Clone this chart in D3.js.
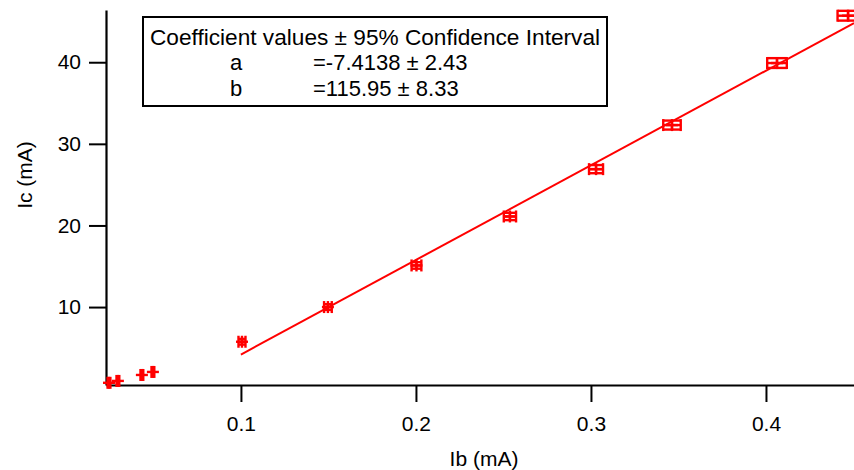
<!DOCTYPE html>
<html><head><meta charset="utf-8">
<script src="https://cdn.jsdelivr.net/npm/d3@7"></script>
<style>body{margin:0;background:#fff}svg{display:block;font-family:"Liberation Sans",Arial,sans-serif}</style>
</head><body>
<svg id="chart" width="854" height="470"></svg>
<script>
const ib = [0.0246, 0.0297, 0.0434, 0.0497, 0.1006, 0.1497, 0.2003, 0.2537, 0.3029, 0.3463, 0.4063, 0.4469];
const ic = [0.72, 0.95, 1.68, 2.05, 5.75, 10.0, 15.1, 21.1, 26.9, 32.3, 39.9, 45.7];
const ibErr = [0.0008, 0.0008, 0.0008, 0.0008, 0.002, 0.0022, 0.0028, 0.0035, 0.004, 0.005, 0.0056, 0.006];
const icErr = [0.2, 0.2, 0.2, 0.2, 0.35, 0.35, 0.4, 0.45, 0.5, 0.55, 0.6, 0.6];
const xTicks = [0.1, 0.2, 0.3, 0.4];
const yTicks = [10, 20, 30, 40];
const coefA = -7.4138, coefB = 115.95;
const fitRange = [0.1, 0.4503];
const legendLines = ["Coefficient values \u00b1 95% Confidence Interval", ["a", "=-7.4138 \u00b1 2.43"], ["b", "=115.95 \u00b1 8.33"]];

const svg = d3.select("#chart");
const red = "#ff0000";
const x = d3.scaleLinear().domain([0.0229, 0.4503]).range([106, 854]);
const y = d3.scaleLinear().domain([0.45, 46.4]).range([385, 10]);

// axes
const xAxis = svg.append("g").attr("transform", "translate(0,385)")
  .call(d3.axisBottom(x).tickValues(xTicks).tickFormat(d3.format(".1f")).tickSize(17).tickSizeOuter(0));
const yAxis = svg.append("g").attr("transform", "translate(106,0)")
  .call(d3.axisLeft(y).tickValues(yTicks).tickSize(17).tickSizeOuter(0));
[xAxis, yAxis].forEach(g => {
  g.select(".domain").attr("stroke", "#000").attr("stroke-width", 2.2);
  g.selectAll(".tick line").attr("stroke", "#000").attr("stroke-width", 2);
  g.selectAll(".tick text").attr("fill", "#000").style("font-size", "21px").style("font-family", "Liberation Sans, Arial, sans-serif");
});
xAxis.selectAll(".tick text").attr("dy", "1.25em");
yAxis.selectAll(".tick text").attr("x", -25);

svg.append("text").attr("x", 484).attr("y", 466).attr("text-anchor", "middle")
  .style("font-size", "21px").text("Ib (mA)");
svg.append("text").attr("transform", "translate(32,175) rotate(-90)").attr("text-anchor", "middle")
  .style("font-size", "21px").text("Ic (mA)");

// fit line
svg.append("line")
  .attr("x1", x(fitRange[0])).attr("y1", y(coefA + coefB * fitRange[0]))
  .attr("x2", x(fitRange[1])).attr("y2", y(coefA + coefB * fitRange[1]))
  .attr("stroke", red).attr("stroke-width", 2);

// points with error bars
const pts = ib.map((v, i) => ({x: v, y: ic[i], ex: ibErr[i], ey: icErr[i]}));
const g = svg.append("g").attr("stroke", red).attr("stroke-width", 2.4).attr("fill", "none");
pts.forEach(p => {
  const cx = x(p.x), cy = y(p.y);
  const x0 = x(p.x - p.ex), x1 = x(p.x + p.ex);
  const y0 = y(p.y - p.ey), y1 = y(p.y + p.ey);
  const m = 6;
  g.append("line").attr("x1", x0).attr("x2", x1).attr("y1", cy).attr("y2", cy);
  g.append("line").attr("x1", x0).attr("x2", x0).attr("y1", cy - m).attr("y2", cy + m);
  g.append("line").attr("x1", x1).attr("x2", x1).attr("y1", cy - m).attr("y2", cy + m);
  g.append("line").attr("x1", cx).attr("x2", cx).attr("y1", y0).attr("y2", y1);
  g.append("line").attr("x1", x0).attr("x2", x1).attr("y1", y0).attr("y2", y0);
  g.append("line").attr("x1", x0).attr("x2", x1).attr("y1", y1).attr("y2", y1);
  g.append("line").attr("x1", cx - m).attr("x2", cx + m).attr("y1", cy).attr("y2", cy);
  g.append("line").attr("x1", cx).attr("x2", cx).attr("y1", cy - m).attr("y2", cy + m);
});

// legend box
const lg = svg.append("g");
lg.append("rect").attr("x", 143).attr("y", 17).attr("width", 464).attr("height", 89)
  .attr("fill", "#fff").attr("stroke", "#000").attr("stroke-width", 2);
const fs = "22px";
lg.append("text").attr("x", 375).attr("y", 45).attr("text-anchor", "middle")
  .style("font-size", fs).attr("textLength", 450).attr("lengthAdjust", "spacingAndGlyphs").text(legendLines[0]);
legendLines.slice(1).forEach((r, i) => {
  lg.append("text").attr("x", 236).attr("y", 70 + i * 26).attr("text-anchor", "middle").style("font-size", fs).text(r[0]);
  lg.append("text").attr("x", 313).attr("y", 70 + i * 26).style("font-size", fs).text(r[1]);
});
</script>
</body></html>
